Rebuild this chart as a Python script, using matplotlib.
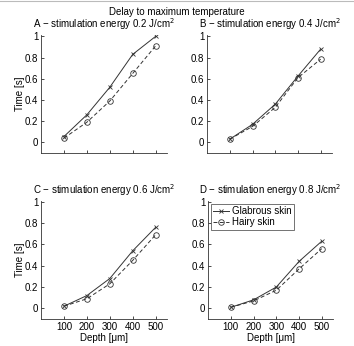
import matplotlib
matplotlib.use("Agg")
import matplotlib.pyplot as plt
from matplotlib.lines import Line2D

depth = [100, 200, 300, 400, 500]
energies = ["0.2", "0.4", "0.6", "0.8"]
letters = ["A", "B", "C", "D"]

glabrous_a = [0.055, 0.26, 0.52, 0.83, 1.0]
hairy_a = [0.04, 0.19, 0.39, 0.65, 0.91]
glabrous_b = [0.03, 0.17, 0.36, 0.625, 0.88]
hairy_b = [0.03, 0.15, 0.33, 0.61, 0.785]
glabrous_c = [0.02, 0.12, 0.28, 0.54, 0.76]
hairy_c = [0.02, 0.09, 0.23, 0.45, 0.69]
glabrous_d = [0.01, 0.08, 0.20, 0.44, 0.63]
hairy_d = [0.01, 0.07, 0.17, 0.37, 0.56]

glabrous = [glabrous_a, glabrous_b, glabrous_c, glabrous_d]
hairy = [hairy_a, hairy_b, hairy_c, hairy_d]

yticks = [0, 0.2, 0.4, 0.6, 0.8, 1]
ytick_labels = ["0", "0.2", "0.4", "0.6", "0.8", "1"]

plt.rcParams['font.family'] = ['Liberation Sans', 'DejaVu Sans']
plt.rcParams['font.size'] = 7

fig = plt.figure(figsize=(3.54, 3.46), dpi=100)

# axes boxes (left, bottom, width, height) in figure fraction
boxes = [
    [0.116, 0.558, 0.356, 0.340],
    [0.585, 0.558, 0.353, 0.340],
    [0.116, 0.078, 0.356, 0.342],
    [0.588, 0.078, 0.353, 0.342],
]

# thin grey frame line at the top
fig.add_artist(Line2D([0, 1], [0.997, 0.997], color="#bbbbbb", lw=0.8,
                      transform=fig.transFigure))
fig.text(0.5, 0.965, "Delay to maximum temperature", ha="center", va="center",
         fontsize=7)

for i in range(4):
    ax = fig.add_axes(boxes[i])
    ax.plot(depth, glabrous[i], color="#333333", lw=0.7, marker="x",
            markersize=3, markeredgewidth=0.6, label="Glabrous skin")
    ax.plot(depth, hairy[i], color="#333333", lw=0.7, ls=(0, (4, 2.5)), marker="o",
            markersize=4, markerfacecolor="none", markeredgewidth=0.6,
            label="Hairy skin")
    ax.set_xlim(0, 550)
    ax.set_ylim(-0.1, 1.01)
    ax.set_xticks(depth)
    ax.set_yticks(yticks)
    ax.set_yticklabels(ytick_labels)
    ax.spines["top"].set_visible(False)
    ax.spines["right"].set_visible(False)
    for s in ["left", "bottom"]:
        ax.spines[s].set_linewidth(0.6)
        ax.spines[s].set_color("#333333")
    ax.tick_params(direction="in", length=2, width=0.5, labelsize=7, pad=2)
    ax.set_title(letters[i] + " \u2212 stimulation energy " + energies[i] +
                 " J/cm$^2$", fontsize=7, pad=5)
    if i < 2:
        ax.set_xticklabels([])
    else:
        ax.set_xlabel("Depth [\u03bcm]", fontsize=7, labelpad=1)
    if i % 2 == 0:
        ax.set_ylabel("Time [s]", fontsize=7, labelpad=0)
    if i == 3:
        leg = ax.legend(loc="upper left", fontsize=7, fancybox=False,
                        handlelength=1.6, borderpad=0.25, labelspacing=0.15,
                        handletextpad=0.3, borderaxespad=0.3)
        leg.get_frame().set_edgecolor("#333333")
        leg.get_frame().set_linewidth(0.6)

fig.savefig("out.png", dpi=100)
